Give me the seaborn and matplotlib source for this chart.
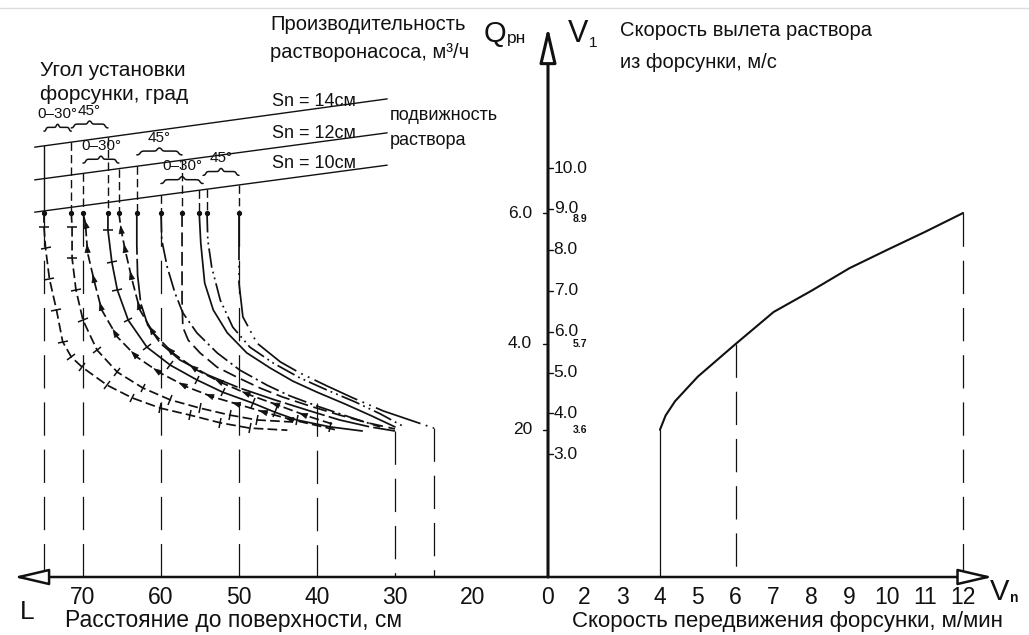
import numpy as np
import matplotlib
matplotlib.use("Agg")
import matplotlib.pyplot as plt
import seaborn as sns
from matplotlib.markers import MarkerStyle
from matplotlib.transforms import Affine2D
from matplotlib.lines import Line2D

sns.set_theme(style="white")
plt.rcParams["font.family"] = ["Liberation Sans", "DejaVu Sans"]
plt.rcParams["lines.scale_dashes"] = False

W, H = 1029, 635
INK = "#111111"

# ---------------- data ----------------
# bottom scales
L_ticks = [70, 60, 50, 40, 30, 20]                 # distance to surface, cm
Vn_ticks = [2, 3, 4, 5, 6, 7, 8, 9, 10, 11, 12]    # nozzle travel speed, m/min
# vertical scales (common height unit = V1, m/s)
V1_ticks = [10.0, 9.0, 8.0, 7.0, 6.0, 5.0, 4.0, 3.0]
Q_levels = [8.9, 5.7, 3.6]
Q_labels = ["6.0", "4.0", "20"]
Q_subs = ["8.9", "5.7", "3.6"]

# right curve: V1 vs Vn
vn_points = [4.0, 4.15, 4.4, 5.0, 6.0, 7.0, 8.0, 9.0, 10.0, 11.0, 12.0]
v1_points = [3.6, 3.95, 4.3, 4.9, 5.7, 6.48, 7.0, 7.55, 8.0, 8.44, 8.9]
vn_marks = [4, 6, 12]
v1_marks = [3.6, 5.7, 8.9]

# mortar mobility lines (Sn), ends in L and height
sn_names = ["Sn = 14см", "Sn = 12см", "Sn = 10см"]
sn_L = [76.2, 31.0]
sn14_V = [10.51, 11.69]
sn12_V = [9.71, 10.86]
sn10_V = [8.92, 10.07]

# left family of curves (L, height)
c1_L = [75.0, 75.0, 74.8, 74.3, 73.4, 72.6, 71.5, 70.1, 66.9, 63.7, 60.1, 56.3, 52.4, 48.6, 43.8]
c1_V = [8.90, 8.56, 8.04, 7.29, 6.53, 5.75, 5.38, 5.13, 4.69, 4.38, 4.13, 3.96, 3.77, 3.64, 3.59]
c2_L = [71.5, 71.4, 71.4, 70.9, 70.0, 68.2, 65.6, 62.3, 58.8, 55.0, 51.2, 47.7, 43.1]
c2_V = [8.90, 8.56, 7.80, 7.02, 6.28, 5.55, 5.01, 4.62, 4.33, 4.13, 3.96, 3.84, 3.79]
c3_L = [70.0, 69.7, 69.4, 68.5, 67.6, 65.6, 63.1, 60.1, 56.7, 53.3, 49.9, 46.4, 43.1, 37.4]
c3_V = [8.90, 8.66, 7.92, 7.19, 6.53, 5.87, 5.38, 4.99, 4.65, 4.40, 4.21, 4.01, 3.84, 3.59]
c4_L = [66.8, 66.8, 66.3, 65.6, 64.2, 61.8, 58.8, 55.4, 52.1, 48.2, 45.4, 42.6, 38.3, 34.2]
c4_V = [8.90, 8.48, 7.70, 7.02, 6.28, 5.62, 5.18, 4.82, 4.52, 4.25, 4.03, 3.84, 3.67, 3.57]
c5_L = [65.4, 65.1, 64.6, 63.7, 62.7, 61.0, 58.5, 55.4, 52.1, 48.6, 44.7, 41.3, 37.7]
c5_V = [8.90, 8.48, 8.00, 7.26, 6.53, 5.97, 5.48, 5.06, 4.74, 4.45, 4.18, 3.94, 3.72]
c6_L = [63.1, 63.1, 63.0, 62.6, 61.7, 60.1, 57.6, 54.0, 49.9, 45.4, 40.9, 37.1, 33.2, 30.0]
c6_V = [8.90, 8.12, 7.38, 6.70, 6.16, 5.72, 5.31, 4.94, 4.62, 4.33, 4.06, 3.84, 3.67, 3.57]
c7_L = [60.0, 59.9, 59.2, 58.2, 57.2, 55.4, 52.8, 49.9, 46.4, 43.5, 40.0, 35.8, 31.9]
c7_V = [8.90, 8.24, 7.58, 6.94, 6.46, 5.97, 5.48, 5.06, 4.69, 4.43, 4.18, 3.91, 3.67]
c8_L = [57.3, 57.3, 57.3, 57.3, 57.2, 56.5, 55.0, 52.8, 50.3, 47.3, 44.4, 40.9, 37.1, 33.5, 30.0]
c8_V = [8.90, 8.24, 7.58, 6.77, 6.11, 5.79, 5.48, 5.13, 4.89, 4.62, 4.40, 4.18, 3.96, 3.77, 3.62]
c9_L = [55.1, 54.9, 54.4, 53.3, 51.5, 49.0, 46.0, 43.1, 40.0, 36.4, 33.0, 30.0]
c9_V = [8.90, 8.17, 7.19, 6.53, 5.97, 5.48, 5.11, 4.79, 4.52, 4.23, 3.94, 3.67]
c10_L = [54.1, 54.0, 53.5, 52.4, 50.8, 48.6, 45.6, 42.2, 38.7, 35.1, 31.9, 29.0]
c10_V = [8.90, 8.24, 7.58, 6.77, 6.11, 5.62, 5.23, 4.87, 4.57, 4.28, 3.99, 3.69]
c11_L = [50.0, 50.0, 50.0, 49.5, 47.7, 44.7, 42.2, 38.7, 35.4, 31.5, 28.1, 25.0]
c11_V = [8.90, 8.00, 7.19, 6.36, 5.72, 5.26, 4.99, 4.67, 4.38, 4.06, 3.84, 3.64]

curves_L = [c1_L, c2_L, c3_L, c4_L, c5_L, c6_L, c7_L, c8_L, c9_L, c10_L, c11_L]
curves_V = [c1_V, c2_V, c3_V, c4_V, c5_V, c6_V, c7_V, c8_V, c9_V, c10_V, c11_V]
curve_sn = [0, 0, 1, 0, 1, 1, 2, 1, 2, 2, 2]      # which Sn line each curve hangs from

full_guides_L = [75, 70, 60, 50]
end_guides_L = [40, 30, 25]
end_guides_V = [4.25, 3.57, 3.64]

# angle braces
brace_L0 = [75.0, 71.5, 70.0, 63.1, 60.0, 54.6]
brace_L1 = [71.5, 66.8, 65.4, 57.3, 54.6, 50.0]
brace_V = [10.90, 10.98, 10.12, 10.32, 9.62, 9.82]
brace_txt = ["0–30°", "45°", "0–30°", "45°", "0–30°", "45°"]

# ---------------- figure ----------------
fig = plt.figure(figsize=(W / 100, H / 100), dpi=100)
fig.patch.set_facecolor("white")
xa = 548 / W
axL = fig.add_axes([0, 0, xa, 1])
axR = fig.add_axes([xa, 0, 1 - xa, 1])
YL = (-1.418, 14.108)
XL_L = (80.64, 10.38)
XL_R = (1.045, 13.74)


def set_limits():
    axL.set_xlim(*XL_L)
    axR.set_xlim(*XL_R)
    for a in (axL, axR):
        a.set_ylim(*YL)
        a.set_axis_off()


set_limits()


def ftext(px, py, s, size=15, **kw):
    kw.setdefault("ha", "left")
    kw.setdefault("va", "center")
    fig.text(px / W, 1 - py / H, s, fontsize=size, color=INK, **kw)


# top light rule
fig.add_artist(Line2D([0, 1], [1 - 8 / H] * 2, color="#dcdcdc", lw=1.0,
                      transform=fig.transFigure))

CURVE_LW = 1.25
styles = [
    dict(ls=(0, (7, 3)), mk="bar"),
    dict(ls=(0, (7, 3)), mk="bar"),
    dict(ls=(0, (7, 3)), mk="arrow"),
    dict(ls="-", mk="bar"),
    dict(ls=(0, (7, 3)), mk="arrow"),
    dict(ls=(0, (30, 3)), mk=None),
    dict(ls=(0, (14, 3, 1.5, 3)), mk=None),
    dict(ls=(0, (10, 4)), mk=None),
    dict(ls="-", mk=None),
    dict(ls=(0, (14, 3, 1.3, 3, 1.3, 3)), mk=None),
    dict(ls=(0, (34, 4, 1.3, 4, 1.3, 4)), mk=None),
]

for Ls, Vs, st in zip(curves_L, curves_V, styles):
    sns.lineplot(x=Ls, y=Vs, ax=axL, sort=False, estimator=None,
                 color=INK, lw=CURVE_LW)
    axL.lines[-1].set_linestyle(st["ls"])
    pts = axL.transData.transform(np.column_stack([Ls, Vs]))
    for i in range(1, len(Ls) - 1):
        d = pts[i + 1] - pts[i - 1]
        ang = np.degrees(np.arctan2(d[1], d[0]))
        if st["mk"] == "bar":
            m = MarkerStyle("_", transform=Affine2D().rotate_deg(ang + 90))
            axL.plot([Ls[i]], [Vs[i]], marker=m, ms=7, mew=1.1, color=INK, ls="none")
        elif st["mk"] == "arrow":
            tip = (Ls[i] + 0.3 * (Ls[i - 1] - Ls[i]), Vs[i] + 0.3 * (Vs[i - 1] - Vs[i]))
            axL.annotate("", xy=tip, xytext=(Ls[i], Vs[i]),
                         arrowprops=dict(arrowstyle="-|>,head_length=0.9,head_width=0.32",
                                         mutation_scale=6, lw=0.5, fc=INK, ec=INK,
                                         shrinkA=0, shrinkB=0))

# Sn lines
sn_sets = [sn14_V, sn12_V, sn10_V]
for sv in sn_sets:
    sns.lineplot(x=sn_L, y=sv, ax=axL, sort=False, estimator=None, color=INK, lw=1.0)

# verticals from Sn lines to curve starts
for k, (Ls, g) in enumerate(zip(curves_L, curve_sn)):
    top = np.interp(Ls[0], sn_L[::-1], sn_sets[g][::-1])
    axL.plot([Ls[0], Ls[0]], [top, curves_V[k][0]], color=INK, lw=1.0,
             ls="-" if k == 0 else (0, (6, 3)))
    axL.plot([Ls[0]], [curves_V[k][0]], marker="o", ms=2.8, color=INK)

# long-dash guides down to the L axis
for Lg in full_guides_L:
    axL.plot([Lg, Lg], [8.9, 0], color=INK, lw=0.9, ls=(0, (24, 10)))
for Lg, Vt in zip(end_guides_L, end_guides_V):
    axL.plot([Lg, Lg], [Vt, 0], color=INK, lw=0.9, ls=(0, (24, 10)))

# braces with angle labels
for L0, L1, bv, t in zip(brace_L0, brace_L1, brace_V, brace_txt):
    p0 = axL.transData.transform((L0, bv))
    p1 = axL.transData.transform((L1, bv))
    s = np.linspace(0, 1, 121)
    half = np.where(s < 0.5, s, 1 - s) * 2          # 0..1..0
    wav = 1 / (1 + np.exp(-(half - 0.15) * 30)) * 0.55 + 1 / (1 + np.exp(-(half - 0.9) * 35)) * 0.45
    xs = p0[0] + (p1[0] - p0[0]) * s
    ys = p0[1] + 7.0 * wav
    inv = axL.transData.inverted().transform(np.column_stack([xs, ys]))
    axL.plot(inv[:, 0], inv[:, 1], color=INK, lw=1.1)
    axL.text((L0 + L1) / 2, bv + 0.42, t, ha="center", va="center", fontsize=11, color=INK)

# right curve
sns.lineplot(x=vn_points, y=v1_points, ax=axR, sort=False, estimator=None, color=INK, lw=1.5)
for vn, v1 in zip(vn_marks, v1_marks):
    axR.plot([vn, vn], [v1, 0], color=INK, lw=0.9, ls="-" if vn == 4 else (0, (24, 10)))

set_limits()

# axes with hollow arrowheads
ap = dict(arrowstyle="-|>,head_length=1.8,head_width=0.42", mutation_scale=12,
          fc="white", ec=INK, lw=1.8, shrinkA=0, shrinkB=0)
axL.annotate("", xy=(78.9, 0), xytext=(XL_L[1], 0), arrowprops=ap)
axR.annotate("", xy=(12.79, 0), xytext=(XL_R[0], 0), arrowprops=ap)
axR.annotate("", xy=(XL_R[0], 13.45), xytext=(XL_R[0], 0), arrowprops=dict(ap, lw=2.2))

# vertical scale ticks/labels
for v in V1_ticks:
    axR.plot([XL_R[0], XL_R[0] + 0.12], [v, v], color=INK, lw=1.0, clip_on=False)
    axR.text(XL_R[0] + 0.15, v, f"{v:.1f}", ha="left", va="center", fontsize=12.5, color=INK)
for q, lab in zip(Q_levels, Q_labels):
    axL.plot([XL_L[1], XL_L[1] + 0.7], [q, q], color=INK, lw=1.0, clip_on=False)
    axL.text(12.4, q, lab, ha="right", va="center", fontsize=12.5, color=INK)
for q, sub, dy in zip(Q_levels, Q_subs, [-0.15, 0.0, 0.0]):
    axR.text(1.70, q + dy, sub, ha="left", va="center", fontsize=7.5,
             fontweight="bold", color=INK)

# bottom scale labels
for L in L_ticks:
    axL.text(L, -0.51, str(L), ha="center", va="center", fontsize=16.5, color=INK)
axR.text(XL_R[0], -0.51, "0", ha="center", va="center", fontsize=16.5, color=INK)
for v in Vn_ticks:
    axR.text(v, -0.51, str(v), ha="center", va="center", fontsize=16.5, color=INK)

# titles / annotations
ftext(40, 71, "Угол установки")
ftext(40, 95, "форсунки, град")
ftext(270, 24, "Производительность", size=14.5)
ftext(270, 52, "растворонасоса, м³/ч", size=14.5)
ftext(484, 34, "Q", size=21)
ftext(507, 39, "рн", size=12.5)
ftext(568, 34, "V", size=22)
ftext(589, 43, "1", size=11)
ftext(620, 31, "Скорость вылета раствора", size=14.5)
ftext(620, 62, "из форсунки, м/с", size=14.5)
ftext(390, 116, "подвижность", size=13)
ftext(390, 140, "раствора", size=13)
for name, py in zip(sn_names, [101, 133, 164]):
    ftext(272, py, name, size=13)
ftext(20, 612, "L", size=19)
ftext(65, 621, "Расстояние до поверхности, см", size=16.5)
ftext(572, 621, "Скорость передвижения форсунки, м/мин", size=16)
ftext(990, 592, "V", size=21)
ftext(1010, 598, "n", size=10, fontweight="bold")

fig.savefig("out.png", dpi=100, facecolor="white")
